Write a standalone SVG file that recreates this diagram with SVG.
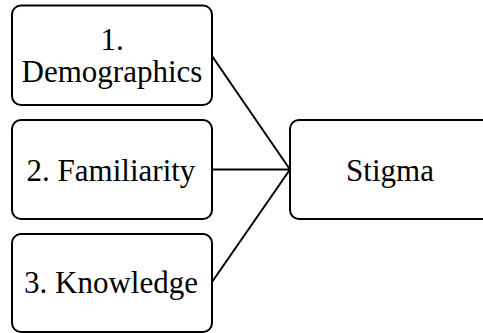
<svg xmlns="http://www.w3.org/2000/svg" width="483" height="333" viewBox="0 0 483 333">
<style>
.box{fill:#fff;stroke:#000;stroke-width:2}
.t{font-family:"Liberation Serif","Times New Roman",serif;font-size:31px;fill:#000;text-anchor:middle}
.c{stroke:#000;stroke-width:2;fill:none}
</style>
<rect width="483" height="333" fill="#fff"/>
<g id="connectors">
<line class="c" x1="212" y1="56" x2="290" y2="169.5"/>
<line class="c" x1="212" y1="169.5" x2="290" y2="169.5"/>
<line class="c" x1="212" y1="282" x2="290" y2="169.5"/>
</g>
<g id="n1">
<rect class="box" x="12" y="5.5" width="200" height="99.5" rx="9"/>
<text class="t" x="112" y="50">1.</text>
<text class="t" x="112" y="82">Demographics</text>
</g>
<g id="n2">
<rect class="box" x="12" y="120" width="200" height="99" rx="9"/>
<text class="t" x="111" y="181">2. Familiarity</text>
</g>
<g id="n3">
<rect class="box" x="12" y="234" width="200" height="98" rx="9"/>
<text class="t" x="111" y="293">3. Knowledge</text>
</g>
<g id="n4">
<rect class="box" x="290" y="120" width="210" height="99" rx="9"/>
<text class="t" x="390" y="181">Stigma</text>
</g>
</svg>
